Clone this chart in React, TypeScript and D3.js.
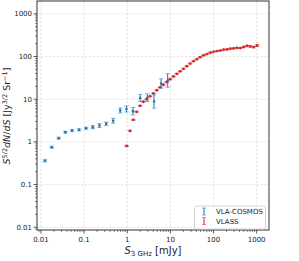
import React from "react";
import * as d3 from "d3";

const W = 299, H = 261;
const M = { left: 37, right: 269, top: 1, bottom: 230 };

const xTicks = [0.01, 0.1, 1, 10, 100, 1000];
const xTickLabels = ["0.01", "0.1", "1", "10", "100", "1000"];
const yTicks = [0.01, 0.1, 1, 10, 100, 1000];
const yTickLabels = ["0.01", "0.1", "1", "10", "100", "1000"];

// VLA-COSMOS
const cosmosS = [0.0124, 0.0178, 0.0258, 0.0368, 0.0526, 0.0766, 0.111, 0.159, 0.227, 0.325, 0.472, 0.687, 0.96, 1.36, 2.0, 2.92, 4.18, 6.08, 8.65];
const cosmosY = [0.36, 0.75, 1.22, 1.69, 1.84, 1.91, 2.09, 2.21, 2.41, 2.64, 3.11, 5.43, 5.89, 5.25, 10.7, 10.8, 8.83, 23.4, 27.5];
const cosmosLo = [0.34, 0.71, 1.16, 1.6, 1.74, 1.81, 1.98, 2.04, 2.16, 2.4, 2.72, 4.74, 5.0, 4.3, 8.85, 8.8, 6.15, 18.1, 19.1];
const cosmosHi = [0.38, 0.79, 1.29, 1.78, 1.94, 2.02, 2.21, 2.4, 2.68, 2.91, 3.56, 6.22, 6.93, 6.4, 12.9, 13.3, 12.7, 30.2, 39.5];

// VLASS
const vlassS = [0.97, 1.16, 1.38, 1.65, 1.98, 2.36, 2.82, 3.38, 4.04, 4.83, 5.77, 6.89, 8.24, 9.85, 11.8, 14.1, 16.8, 20.1, 24.0, 28.7, 34.4, 41.1, 49.1, 58.7, 70.1, 83.8, 100, 120, 143, 171, 205, 245, 292, 350, 418, 499, 597, 714, 853, 1020];
const vlassY = [0.8, 1.81, 3.28, 5.06, 7.0, 8.7, 10.0, 11.7, 13.7, 16.2, 19.0, 21.8, 25.2, 29.3, 34.0, 39.4, 45.0, 51.5, 59.3, 68.5, 77.7, 86.6, 96.3, 106.7, 114, 123, 129, 134, 138, 144, 147, 152, 155, 160, 158, 167, 177, 172, 166, 181];
const vlassErr = [0.03, 0.03, 0.03, 0.025, 0.025, 0.02, 0.02, 0.02, 0.02, 0.02, 0.02, 0.02, 0.02, 0.02, 0.02, 0.02, 0.02, 0.02, 0.02, 0.02, 0.02, 0.02, 0.02, 0.02, 0.02, 0.02, 0.02, 0.02, 0.02, 0.02, 0.025, 0.025, 0.025, 0.03, 0.03, 0.03, 0.035, 0.04, 0.045, 0.05];

const BLUE = "#1f77b4";
const RED = "#d62728";
const FONT = "DejaVu Sans";

export default function App() {
  const x = d3.scaleLog().domain([0.0081, 1930]).range([M.left, M.right]);
  const y = d3.scaleLog().domain([0.0086, 2000]).range([M.bottom, M.top]);

  const minorX: number[] = [];
  xTicks.concat([0.001]).forEach((d) => {
    for (let k = 2; k <= 9; k++) {
      const v = d * k;
      if (v > x.domain()[0] && v < x.domain()[1]) minorX.push(v);
    }
  });
  const minorY: number[] = [];
  yTicks.concat([0.001]).forEach((d) => {
    for (let k = 2; k <= 9; k++) {
      const v = d * k;
      if (v > y.domain()[0] && v < y.domain()[1]) minorY.push(v);
    }
  });

  const cap = 2.3;

  return (
    <svg width={W} height={H} style={{ display: "block", position: "absolute", left: 0, top: 0 }} fontFamily={FONT}>
      <rect x={0} y={0} width={W} height={H} fill="#fff" />
      {/* grid */}
      {xTicks.map((t) => (
        <line key={"gx" + t} x1={x(t)} x2={x(t)} y1={M.top} y2={M.bottom} stroke="#d8d8d8" strokeWidth={0.7} strokeDasharray="2.5,1.5" />
      ))}
      {yTicks.map((t) => (
        <line key={"gy" + t} x1={M.left} x2={M.right} y1={y(t)} y2={y(t)} stroke="#d8d8d8" strokeWidth={0.7} strokeDasharray="2.5,1.5" />
      ))}

      {/* VLASS */}
      {vlassS.map((s, i) => {
        const cx = x(s);
        const v = vlassY[i];
        const lo = y(v * (1 - vlassErr[i]));
        const hi = y(v * (1 + vlassErr[i]));
        return (
          <g key={"r" + i}>
            <line x1={cx} x2={cx} y1={lo} y2={hi} stroke={RED} strokeWidth={0.8} />
            <line x1={cx - cap} x2={cx + cap} y1={lo} y2={lo} stroke={RED} strokeOpacity={0.6} strokeWidth={0.8} />
            <line x1={cx - cap} x2={cx + cap} y1={hi} y2={hi} stroke={RED} strokeOpacity={0.6} strokeWidth={0.8} />
            <circle cx={cx} cy={y(v)} r={1.4} fill={RED} />
          </g>
        );
      })}

      {/* VLA-COSMOS */}
      {cosmosS.map((s, i) => {
        const cx = x(s);
        const lo = y(cosmosLo[i]);
        const hi = y(cosmosHi[i]);
        return (
          <g key={"b" + i}>
            <line x1={cx} x2={cx} y1={lo} y2={hi} stroke={BLUE} strokeWidth={1} />
            <line x1={cx - cap} x2={cx + cap} y1={lo} y2={lo} stroke={BLUE} strokeOpacity={0.6} strokeWidth={0.9} />
            <line x1={cx - cap} x2={cx + cap} y1={hi} y2={hi} stroke={BLUE} strokeOpacity={0.6} strokeWidth={0.9} />
            <circle cx={cx} cy={y(cosmosY[i])} r={1.3} fill={BLUE} />
          </g>
        );
      })}

      {/* frame */}
      <rect x={M.left} y={M.top} width={M.right - M.left} height={M.bottom - M.top} fill="none" stroke="#333" strokeWidth={1} />

      {/* x ticks */}
      {xTicks.map((t, i) => (
        <g key={"xt" + t}>
          <line x1={x(t)} x2={x(t)} y1={M.bottom} y2={M.bottom + 3.5} stroke="#333" strokeWidth={0.8} />
          <text x={x(t)} y={241.5} fontSize={7} textAnchor="middle" fill="#222">{xTickLabels[i]}</text>
        </g>
      ))}
      {minorX.map((t) => (
        <line key={"mx" + t} x1={x(t)} x2={x(t)} y1={M.bottom} y2={M.bottom + 2} stroke="#333" strokeWidth={0.6} />
      ))}
      {/* y ticks */}
      {yTicks.map((t, i) => (
        <g key={"yt" + t}>
          <line x1={M.left - 3.5} x2={M.left} y1={y(t)} y2={y(t)} stroke="#333" strokeWidth={0.8} />
          <text x={M.left - 5} y={y(t) + 2.5} fontSize={7} textAnchor="end" fill="#222">{yTickLabels[i]}</text>
        </g>
      ))}
      {minorY.map((t) => (
        <line key={"my" + t} x1={M.left - 2} x2={M.left} y1={y(t)} y2={y(t)} stroke="#333" strokeWidth={0.6} />
      ))}

      {/* axis labels */}
      <text x={153} y={254} fontSize={10} textAnchor="middle" fill="#222">
        <tspan fontStyle="italic">S</tspan>
        <tspan fontSize={7} dy={2}>3 GHz</tspan>
        <tspan dy={-2}> [mJy]</tspan>
      </text>
      <text transform="translate(10,116) rotate(-90)" fontSize={9.5} textAnchor="middle" fill="#222">
        <tspan fontStyle="italic">S</tspan>
        <tspan fontSize={6.5} dy={-3.5}>5/2</tspan>
        <tspan dy={3.5} fontStyle="italic">dN</tspan>
        <tspan>/</tspan>
        <tspan fontStyle="italic">dS</tspan>
        <tspan> [Jy</tspan>
        <tspan fontSize={6.5} dy={-3.5}>3/2</tspan>
        <tspan dy={3.5}> Sr</tspan>
        <tspan fontSize={6.5} dy={-3.5}>−1</tspan>
        <tspan dy={3.5}>]</tspan>
      </text>

      {/* legend */}
      <rect x={194.5} y={206} width={71} height={23} rx={2} fill="#fff" fillOpacity={0.9} stroke="#ccc" strokeWidth={0.8} />
      {[{ c: BLUE, t: "VLA-COSMOS", yy: 211.5 }, { c: RED, t: "VLASS", yy: 221 }].map((e) => (
        <g key={e.t}>
          <line x1={204} x2={204} y1={e.yy - 3.5} y2={e.yy + 3.5} stroke={e.c} strokeWidth={1} />
          <line x1={202} x2={206} y1={e.yy - 3.5} y2={e.yy - 3.5} stroke={e.c} strokeOpacity={0.6} strokeWidth={0.9} />
          <line x1={202} x2={206} y1={e.yy + 3.5} y2={e.yy + 3.5} stroke={e.c} strokeOpacity={0.6} strokeWidth={0.9} />
          <text x={216} y={e.yy + 2.5} fontSize={7} fill="#222">{e.t}</text>
        </g>
      ))}
    </svg>
  );
}
